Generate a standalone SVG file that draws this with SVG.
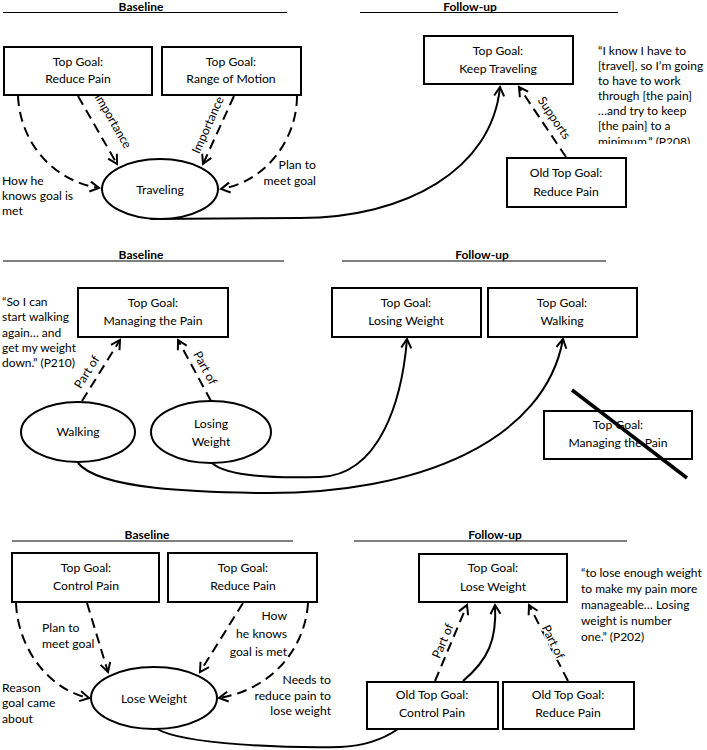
<svg xmlns="http://www.w3.org/2000/svg" width="707" height="750" viewBox="0 0 707 750">
<defs>
<style>
text{font-family:Lato,"Liberation Sans",sans-serif;font-size:12.2px;fill:#000}
.c{text-anchor:middle}
.e{text-anchor:end}
.q{font-size:12px}
.h{font-weight:bold;text-anchor:middle;font-size:12px}
.lbl{stroke:#fff;stroke-width:3;paint-order:stroke;stroke-linejoin:round}
.box{fill:#fff;stroke:#000;stroke-width:2}
.ell{fill:#fff;stroke:#000;stroke-width:2}
.rule{stroke:#000;stroke-width:1}
.dash{fill:none;stroke:#000;stroke-width:2;stroke-dasharray:10,6}
.solid{fill:none;stroke:#000;stroke-width:2}
</style>
<marker id="arr" markerUnits="userSpaceOnUse" markerWidth="14" markerHeight="14" refX="0" refY="0" viewBox="-10 -7 12 14" orient="auto">
<path d="M-9,-5 L0,0 L-9,5" fill="none" stroke="#000" stroke-width="2"/>
</marker>
<clipPath id="qclip"><rect x="590" y="30" width="117" height="114"/></clipPath>
</defs>

<g id="headers">
<text class="h" x="141" y="11">Baseline</text>
<line class="rule" x1="3" y1="12.5" x2="287" y2="12.5"/>
<text class="h" x="470" y="11">Follow-up</text>
<line class="rule" x1="360" y1="12.5" x2="618" y2="12.5"/>
<text class="h" x="141" y="259">Baseline</text>
<line class="rule" x1="3" y1="261" x2="284" y2="261"/>
<text class="h" x="482" y="259">Follow-up</text>
<line class="rule" x1="342" y1="261" x2="606" y2="261"/>
<text class="h" x="147" y="539">Baseline</text>
<line class="rule" x1="12" y1="541" x2="293" y2="541"/>
<text class="h" x="495" y="539">Follow-up</text>
<line class="rule" x1="354" y1="541" x2="627" y2="541"/>
</g>

<g id="connectors">
<!-- section 1 -->
<path class="dash" d="M18,96 C20,140 50,180 99,188" marker-end="url(#arr)"/>
<path class="dash" d="M78,96 L117,164" marker-end="url(#arr)"/>
<path class="dash" d="M234,96 L203,164" marker-end="url(#arr)"/>
<path class="dash" d="M297,96 C297,140 265,182 221,189" marker-end="url(#arr)"/>
<path class="solid" d="M150,219 L300,218 C405,218 492,170 500,87" marker-end="url(#arr)"/>
<path class="dash" d="M566,157 L519,87" marker-end="url(#arr)"/>
<!-- section 2 -->
<path class="dash" d="M82,401 L120,340" marker-end="url(#arr)"/>
<path class="dash" d="M211,401 L178,340" marker-end="url(#arr)"/>
<path class="solid" d="M212,463 C228,478 285,478 320,477 C380,475 402,400 407,339" marker-end="url(#arr)"/>
<path class="solid" d="M78,463 C100,490 200,492 260,493 C420,495 545,440 563,339" marker-end="url(#arr)"/>
<!-- section 3 -->
<path class="dash" d="M16,603 C18,650 50,690 89,698" marker-end="url(#arr)"/>
<path class="dash" d="M87,603 L108,672" marker-end="url(#arr)"/>
<path class="dash" d="M243,603 L200,672" marker-end="url(#arr)"/>
<path class="dash" d="M308,603 C305,650 270,690 219,698" marker-end="url(#arr)"/>
<path class="solid" d="M157,729 C185,745 290,748 340,747 C365,746 385,738 398,729"/>
<path class="dash" d="M435,681 L467,605" marker-end="url(#arr)"/>
<path class="solid" d="M463,681 C488,660 497,640 495,605" marker-end="url(#arr)"/>
<path class="dash" d="M568,681 L529,605" marker-end="url(#arr)"/>
</g>

<g id="edge-labels">
<text class="c lbl" transform="translate(113,121) rotate(60)" dy="4">Importance</text>
<text class="c lbl" transform="translate(208,125) rotate(-66)" dy="4">Importance</text>
<text x="2" y="185">How he</text>
<text x="2" y="200">knows goal is</text>
<text x="2" y="215">met</text>
<text class="e" x="316" y="169">Plan to</text>
<text class="e" x="316" y="185">meet goal</text>
<text class="c lbl" transform="translate(554,118) rotate(56)" dy="4">Supports</text>
<text class="c lbl" transform="translate(87,372) rotate(-58)" dy="4">Part of</text>
<text class="c lbl" transform="translate(205,368) rotate(62)" dy="4">Part of</text>
<text x="42" y="632">Plan to</text>
<text x="42" y="648">meet goal</text>
<text class="e" x="287" y="620">How</text>
<text class="e" x="287" y="638">he knows</text>
<text class="e" x="287" y="656">goal is met</text>
<text x="2" y="692">Reason</text>
<text x="2" y="707">goal came</text>
<text x="2" y="723">about</text>
<text class="e" x="331" y="684">Needs to</text>
<text class="e" x="331" y="700">reduce pain to</text>
<text class="e" x="331" y="715">lose weight</text>
<text class="c lbl" transform="translate(443,641) rotate(-67)" dy="4">Part of</text>
<text class="c lbl" transform="translate(553,642) rotate(64)" dy="4">Part of</text>
</g>

<g id="quotes">
<g clip-path="url(#qclip)">
<text class="q" x="598" y="55">“I know I have to</text>
<text class="q" x="598" y="70">[travel], so I’m going</text>
<text class="q" x="598" y="85">to have to work</text>
<text class="q" x="598" y="100">through [the pain]</text>
<text class="q" x="598" y="115">…and try to keep</text>
<text class="q" x="598" y="130">[the pain] to a</text>
<text class="q" x="598" y="146">minimum.” (P208)</text>
</g>
<text class="q" x="2" y="306">“So I can</text>
<text class="q" x="2" y="321">start walking</text>
<text class="q" x="2" y="337">again… and</text>
<text class="q" x="2" y="352">get my weight</text>
<text class="q" x="2" y="367">down.” (P210)</text>
<text class="q" x="581" y="577">“to lose enough weight</text>
<text class="q" x="581" y="593">to make my pain more</text>
<text class="q" x="581" y="609">manageable… Losing</text>
<text class="q" x="581" y="625">weight is number</text>
<text class="q" x="581" y="641">one.” (P202)</text>
</g>

<g id="n-reduce-pain-1">
<rect class="box" x="4" y="47" width="148" height="48"/>
<text class="c" x="78" y="66">Top Goal:</text>
<text class="c" x="78" y="83">Reduce Pain</text>
</g>
<g id="n-range-motion">
<rect class="box" x="162" y="47" width="139" height="48"/>
<text class="c" x="231" y="66">Top Goal:</text>
<text class="c" x="231" y="83">Range of Motion</text>
</g>
<g id="n-traveling">
<ellipse class="ell" cx="160" cy="189" rx="58" ry="30"/>
<text class="c" x="160" y="194">Traveling</text>
</g>
<g id="n-keep-traveling">
<rect class="box" x="424" y="36" width="149" height="48"/>
<text class="c" x="498" y="55">Top Goal:</text>
<text class="c" x="498" y="73">Keep Traveling</text>
</g>
<g id="n-old-reduce-pain-1">
<rect class="box" x="507" y="158" width="119" height="49"/>
<text class="c" x="566" y="177">Old Top Goal:</text>
<text class="c" x="566" y="196">Reduce Pain</text>
</g>

<g id="n-managing-pain">
<rect class="box" x="78" y="288" width="150" height="49"/>
<text class="c" x="153" y="307">Top Goal:</text>
<text class="c" x="153" y="325">Managing the Pain</text>
</g>
<g id="n-walking">
<ellipse class="ell" cx="78" cy="432" rx="57" ry="30"/>
<text class="c" x="78" y="436">Walking</text>
</g>
<g id="n-losing-weight">
<ellipse class="ell" cx="211" cy="432" rx="60" ry="31"/>
<text class="c" x="211" y="428">Losing</text>
<text class="c" x="211" y="446">Weight</text>
</g>
<g id="n-top-losing-weight">
<rect class="box" x="332" y="288" width="149" height="49"/>
<text class="c" x="406" y="307">Top Goal:</text>
<text class="c" x="406" y="325">Losing Weight</text>
</g>
<g id="n-top-walking">
<rect class="box" x="488" y="288" width="149" height="49"/>
<text class="c" x="562" y="307">Top Goal:</text>
<text class="c" x="562" y="325">Walking</text>
</g>
<g id="n-managing-pain-crossed">
<rect class="box" x="544" y="411" width="148" height="48"/>
<text class="c" x="618" y="429">Top Goal:</text>
<text class="c" x="618" y="447">Managing the Pain</text>
<line x1="572" y1="390" x2="687" y2="478" stroke="#000" stroke-width="3.5"/>
</g>

<g id="n-control-pain">
<rect class="box" x="12" y="553" width="147" height="49"/>
<text class="c" x="86" y="572">Top Goal:</text>
<text class="c" x="86" y="590">Control Pain</text>
</g>
<g id="n-reduce-pain-3">
<rect class="box" x="168" y="553" width="149" height="49"/>
<text class="c" x="243" y="572">Top Goal:</text>
<text class="c" x="243" y="590">Reduce Pain</text>
</g>
<g id="n-lose-weight">
<ellipse class="ell" cx="154" cy="698" rx="63" ry="31"/>
<text class="c" x="154" y="703">Lose Weight</text>
</g>
<g id="n-top-lose-weight">
<rect class="box" x="419" y="554" width="148" height="48"/>
<text class="c" x="493" y="572">Top Goal:</text>
<text class="c" x="493" y="591">Lose Weight</text>
</g>
<g id="n-old-control-pain">
<rect class="box" x="367" y="682" width="131" height="47"/>
<text class="c" x="432" y="699">Old Top Goal:</text>
<text class="c" x="432" y="717">Control Pain</text>
</g>
<g id="n-old-reduce-pain-3">
<rect class="box" x="503" y="682" width="131" height="47"/>
<text class="c" x="568" y="699">Old Top Goal:</text>
<text class="c" x="568" y="717">Reduce Pain</text>
</g>
</svg>
